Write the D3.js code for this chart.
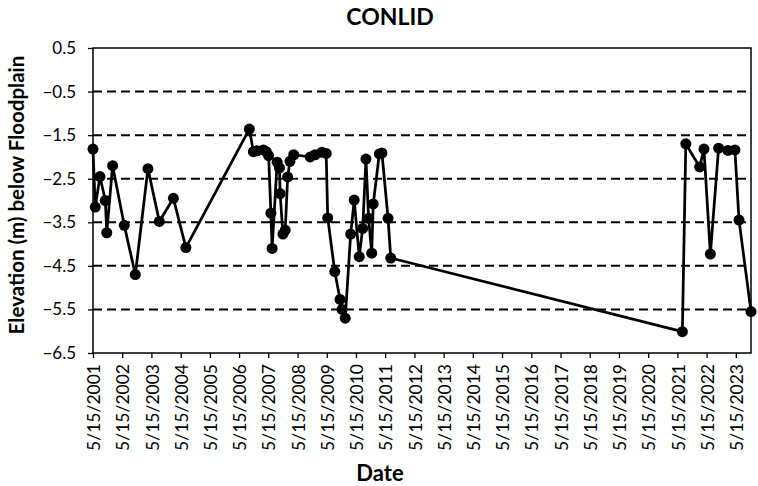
<!DOCTYPE html>
<html>
<head>
<meta charset="utf-8">
<script src="https://cdn.jsdelivr.net/npm/d3@7"></script>
<style>
  html, body { margin: 0; padding: 0; background: #fff; }
  svg { display: block; }
</style>
</head>
<body>
<div id="chart"></div>
<script>
// sample dates and elevation (m) below floodplain
const sampleDates = [
  "2001-05-15", "2001-06-12", "2001-08-10", "2001-10-16", "2001-11-03",
  "2002-01-15", "2002-06-10", "2002-10-26", "2003-04-02", "2003-08-22",
  "2004-02-14", "2004-07-19",
  "2006-09-20", "2006-11-10", "2006-12-25", "2007-03-15", "2007-04-20",
  "2007-05-19", "2007-06-17", "2007-07-02", "2007-09-03", "2007-10-02",
  "2007-10-10", "2007-11-14", "2007-12-13", "2008-01-12", "2008-02-10",
  "2008-03-28", "2008-10-20", "2008-12-20", "2009-03-14", "2009-05-08",
  "2009-05-27", "2009-08-23", "2009-10-28", "2009-11-22", "2010-01-01",
  "2010-03-10", "2010-04-23", "2010-06-25", "2010-08-07", "2010-09-17",
  "2010-10-20", "2010-11-28", "2010-12-17", "2011-03-03", "2011-04-05",
  "2011-06-20", "2011-07-24",
  "2021-07-16", "2021-08-28", "2022-02-17", "2022-04-12", "2022-07-01",
  "2022-10-12", "2023-02-06", "2023-05-04", "2023-06-24", "2023-11-21"
];
const elevations = [
  -1.82, -3.15, -2.45, -3.00, -3.74,
  -2.20, -3.57, -4.70, -2.27, -3.48,
  -2.95, -4.08,
  -1.36, -1.88, -1.86, -1.84, -1.88,
  -1.97, -3.29, -4.10, -2.12, -2.25,
  -2.84, -3.77, -3.68, -2.46, -2.10,
  -1.95, -2.00, -1.95, -1.89, -1.92,
  -3.40, -4.63, -5.27, -5.50, -5.70,
  -3.77, -2.99, -4.29, -3.64, -2.05,
  -3.41, -4.21, -3.08, -1.93, -1.91,
  -3.41, -4.32,
  -6.01, -1.70, -2.23, -1.82, -4.23,
  -1.80, -1.85, -1.84, -3.45, -5.55
];
const yTicks = [0.5, -0.5, -1.5, -2.5, -3.5, -4.5, -5.5, -6.5];
const tickYears = d3.range(2001, 2024);

const width = 758, height = 486;
const plot = { left: 93, right: 751, top: 48, bottom: 353 };
const font = "Lato, 'Open Sans', sans-serif";

const parse = d3.timeParse("%Y-%m-%d");
const data = sampleDates.map((d, i) => ({ date: parse(d), value: elevations[i] }));

const x = d3.scaleTime()
  .domain([parse("2001-05-15"), parse("2023-11-21")])
  .range([plot.left, plot.right]);
const y = d3.scaleLinear()
  .domain([-6.5, 0.5])
  .range([plot.bottom, plot.top]);

const svg = d3.select("#chart").append("svg")
  .attr("width", width)
  .attr("height", height)
  .style("font-family", font);

// dashed gridlines
svg.append("g")
  .selectAll("line")
  .data(yTicks.filter(t => t !== 0.5 && t !== -6.5))
  .join("line")
  .attr("x1", plot.left)
  .attr("x2", plot.right)
  .attr("y1", d => y(d))
  .attr("y2", d => y(d))
  .attr("stroke", "#000")
  .attr("stroke-width", 2)
  .attr("stroke-dasharray", "9,5");

// y axis
const yAxis = svg.append("g")
  .attr("transform", `translate(${plot.left},0)`)
  .call(d3.axisLeft(y).tickValues(yTicks).tickFormat(d3.format(".1f")).tickSize(5).tickPadding(12));
yAxis.select(".domain").remove();
yAxis.selectAll(".tick line").attr("stroke", "#000").attr("stroke-width", 1.3);
yAxis.selectAll(".tick text")
  .attr("font-size", 17)
  .attr("font-family", font)
  .attr("fill", "#000");

// x axis
const xAxis = svg.append("g")
  .attr("transform", `translate(0,${plot.bottom})`)
  .call(d3.axisBottom(x)
    .tickValues(tickYears.map(yr => new Date(yr, 4, 15)))
    .tickFormat(d3.timeFormat("%-m/%-d/%Y"))
    .tickSize(5));
xAxis.select(".domain").remove();
xAxis.selectAll(".tick line").attr("stroke", "#000").attr("stroke-width", 1.3);
xAxis.selectAll(".tick text")
  .attr("font-size", 17.5)
  .attr("font-family", font)
  .attr("fill", "#000")
  .attr("text-anchor", "end")
  .attr("transform", "rotate(-90)")
  .attr("x", -11)
  .attr("y", 0)
  .attr("dy", "0.38em");

// plot frame
svg.append("rect")
  .attr("x", plot.left)
  .attr("y", plot.top)
  .attr("width", plot.right - plot.left)
  .attr("height", plot.bottom - plot.top)
  .attr("fill", "none")
  .attr("stroke", "#000")
  .attr("stroke-width", 1.5);

// series line and markers
const line = d3.line()
  .x(d => x(d.date))
  .y(d => y(d.value));

svg.append("path")
  .datum(data)
  .attr("d", line)
  .attr("fill", "none")
  .attr("stroke", "#000")
  .attr("stroke-width", 2.75)
  .attr("stroke-linejoin", "round");

svg.append("g")
  .selectAll("circle")
  .data(data)
  .join("circle")
  .attr("cx", d => x(d.date))
  .attr("cy", d => y(d.value))
  .attr("r", 5.5)
  .attr("fill", "#000");

// titles
svg.append("text")
  .attr("x", 390)
  .attr("y", 25)
  .attr("text-anchor", "middle")
  .attr("font-size", 23)
  .attr("font-weight", "bold")
  .text("CONLID");

svg.append("text")
  .attr("x", 380)
  .attr("y", 481)
  .attr("text-anchor", "middle")
  .attr("font-size", 22)
  .attr("font-weight", "bold")
  .text("Date");

svg.append("text")
  .attr("transform", `translate(24,195) rotate(-90)`)
  .attr("text-anchor", "middle")
  .attr("font-size", 20.5)
  .attr("font-weight", "bold")
  .text("Elevation (m) below Floodplain");
</script>
</body>
</html>
